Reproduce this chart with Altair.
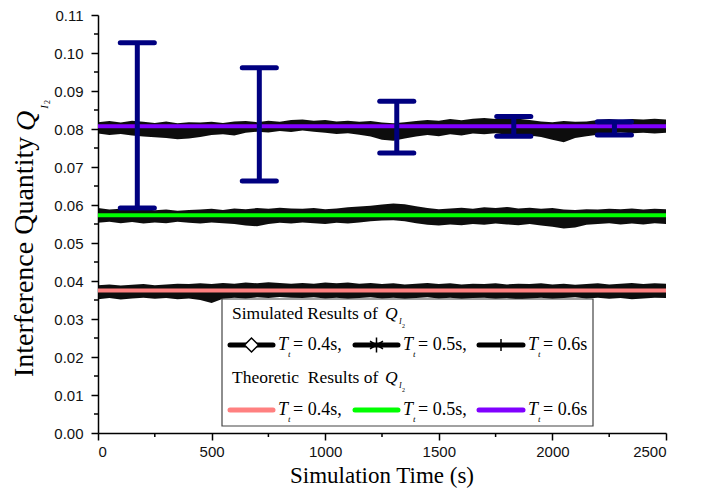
import altair as alt
import pandas as pd

# ---------------- data ----------------
x_samples = list(range(0, 2501, 50))

sim_06_upper = [0.0818, 0.0821, 0.0817, 0.0822,
                0.0819, 0.0816, 0.0820, 0.0815, 0.0818,
                0.0817, 0.0819, 0.0816, 0.0820,
                0.0821, 0.0818, 0.0822, 0.0819, 0.0824,
                0.0825, 0.0822, 0.0824,
                0.0820, 0.0822, 0.0819, 0.0821, 0.0817,
                0.0815, 0.0818, 0.0821,
                0.0824, 0.0822, 0.0826, 0.0823, 0.0827,
                0.0829, 0.0826, 0.0830, 0.0827, 0.0824,
                0.0820, 0.0818, 0.0821, 0.0819, 0.0820,
                0.0824, 0.0826, 0.0823, 0.0826, 0.0825, 0.0827, 0.0825]
sim_06_lower = [0.0788, 0.0784, 0.0787, 0.0783,
                0.0780, 0.0778, 0.0776, 0.0773, 0.0775,
                0.0779, 0.0784, 0.0786, 0.0783,
                0.0790, 0.0793, 0.0791, 0.0795, 0.0792,
                0.0796, 0.0793, 0.0790,
                0.0787, 0.0789, 0.0785, 0.0780, 0.0772,
                0.0769, 0.0775, 0.0780,
                0.0784, 0.0781, 0.0786, 0.0783, 0.0788,
                0.0786, 0.0789, 0.0785, 0.0787, 0.0783,
                0.0779, 0.0772, 0.0765, 0.0776, 0.0781,
                0.0785, 0.0789, 0.0791, 0.0789, 0.0790, 0.0788, 0.0790]

sim_05_upper = [0.0592, 0.0588, 0.0590, 0.0587,
                0.0589, 0.0586, 0.0588, 0.0585, 0.0587,
                0.0588, 0.0590, 0.0587, 0.0591,
                0.0589, 0.0592, 0.0590, 0.0593, 0.0591,
                0.0590, 0.0592, 0.0589,
                0.0591, 0.0594, 0.0596, 0.0598, 0.0601,
                0.0604, 0.0602, 0.0597,
                0.0592, 0.0589, 0.0591, 0.0593, 0.0590,
                0.0594, 0.0592, 0.0595, 0.0591, 0.0593,
                0.0590, 0.0592, 0.0588, 0.0587, 0.0589,
                0.0588, 0.0590, 0.0589, 0.0591, 0.0588, 0.0590, 0.0589]
sim_05_lower = [0.0553, 0.0556, 0.0552, 0.0555,
                0.0551, 0.0554, 0.0552, 0.0556, 0.0553,
                0.0551, 0.0554, 0.0552, 0.0550,
                0.0546, 0.0544, 0.0550, 0.0553, 0.0551,
                0.0554, 0.0552, 0.0550,
                0.0553, 0.0551, 0.0554, 0.0557, 0.0559,
                0.0560, 0.0557, 0.0552,
                0.0548, 0.0546, 0.0549, 0.0547, 0.0550,
                0.0548, 0.0551, 0.0549, 0.0547, 0.0550,
                0.0546, 0.0543, 0.0538, 0.0541, 0.0548,
                0.0550, 0.0552, 0.0549, 0.0551, 0.0549, 0.0552, 0.0550]

sim_04_upper = [0.0389, 0.0391, 0.0388, 0.0390,
                0.0392, 0.0389, 0.0391, 0.0393, 0.0392,
                0.0394, 0.0392, 0.0395, 0.0393,
                0.0396, 0.0394, 0.0397, 0.0395, 0.0393,
                0.0395, 0.0393, 0.0396,
                0.0394, 0.0396, 0.0393, 0.0395, 0.0392,
                0.0394, 0.0391, 0.0393,
                0.0395, 0.0392, 0.0394, 0.0391, 0.0393,
                0.0392, 0.0394, 0.0391, 0.0393, 0.0392,
                0.0394, 0.0391, 0.0393, 0.0390, 0.0392,
                0.0394, 0.0391, 0.0393, 0.0395, 0.0392, 0.0394, 0.0393]
sim_04_lower = [0.0352, 0.0355, 0.0351, 0.0354,
                0.0356, 0.0353, 0.0355, 0.0352, 0.0354,
                0.0350, 0.0342, 0.0353, 0.0356,
                0.0354, 0.0357, 0.0355, 0.0358, 0.0356,
                0.0355, 0.0357, 0.0354,
                0.0356, 0.0353, 0.0355, 0.0357, 0.0354,
                0.0356, 0.0353, 0.0355,
                0.0357, 0.0354, 0.0356, 0.0353, 0.0355,
                0.0356, 0.0353, 0.0355, 0.0352, 0.0354,
                0.0356, 0.0353, 0.0355, 0.0357, 0.0354,
                0.0356, 0.0353, 0.0355, 0.0352, 0.0354, 0.0356, 0.0355]

theory_x = [0, 2500]
theory_series = ["0.4", "0.5", "0.6"]
theory_levels = [0.0375, 0.0573, 0.0807]
theory_colors = ["#FF8080", "#00FF00", "#8000FF"]

err_x = [173, 710, 1315, 1830, 2273]
err_top = [0.1027, 0.0961, 0.0873, 0.0833, 0.0819]
err_bottom = [0.0592, 0.0663, 0.0737, 0.0781, 0.0784]

x_ticks = [0, 500, 1000, 1500, 2000, 2500]
x_minor = [250, 750, 1250, 1750, 2250]
y_ticks = [0.00, 0.01, 0.02, 0.03, 0.04, 0.05, 0.06, 0.07, 0.08, 0.09, 0.10, 0.11]
y_minor = [0.005, 0.015, 0.025, 0.035, 0.045, 0.055, 0.065, 0.075, 0.085, 0.095, 0.105]

# ---------------- tables ----------------
band_rows = []
for name, up, lo in [("0.4", sim_04_upper, sim_04_lower),
                     ("0.5", sim_05_upper, sim_05_lower),
                     ("0.6", sim_06_upper, sim_06_lower)]:
    for xv, u, l in zip(x_samples, up, lo):
        band_rows.append({"x": xv, "lo": l, "hi": u, "series": name})
band_df = pd.DataFrame(band_rows)

theory_df = pd.DataFrame([{"x": xv, "y": lv, "series": s}
                          for s, lv in zip(theory_series, theory_levels)
                          for xv in theory_x])

err_df = pd.DataFrame({"x": err_x, "top": err_top, "bottom": err_bottom})
xminor_df = pd.DataFrame({"x": x_minor})
yminor_df = pd.DataFrame({"y": y_minor})
one = pd.DataFrame({"a": [0]})

W, H = 568, 418

xscale = alt.Scale(domain=[0, 2500], nice=False, zero=False)
yscale = alt.Scale(domain=[0, 0.11], nice=False, zero=False)
xaxis = alt.Axis(values=x_ticks, format="d", title=None, tickSize=7, tickWidth=1.5,
                 domainWidth=1.5, domainColor="black", tickColor="black",
                 labelFont="Liberation Sans", labelFontSize=15, labelColor="#111",
                 labelPadding=4, grid=False)
yaxis = alt.Axis(values=y_ticks, format=".2f", title=None, tickSize=7, tickWidth=1.5,
                 domainWidth=1.5, domainColor="black", tickColor="black",
                 labelFont="Liberation Sans", labelFontSize=15, labelColor="#111",
                 labelPadding=8, grid=False)


def X(field):
    return alt.X(field, type="quantitative", scale=xscale, axis=xaxis)


def Y(field):
    return alt.Y(field, type="quantitative", scale=yscale, axis=yaxis)


bands = alt.Chart(band_df).mark_area(color="black", opacity=0.95).encode(
    x=X("x"), y=Y("lo"), y2="hi", detail="series:N")

theory = alt.Chart(theory_df).mark_line(strokeWidth=4).encode(
    x=X("x"), y=Y("y"),
    color=alt.Color("series:N", scale=alt.Scale(domain=theory_series, range=theory_colors),
                    legend=None))

err_v = alt.Chart(err_df).mark_rule(color="#000080", strokeWidth=5).encode(
    x=X("x"), y=Y("bottom"), y2="top")
err_caps_top = alt.Chart(err_df).transform_calculate(
    xl="datum.x - 75", xr="datum.x + 75").mark_rule(
    color="#000080", strokeWidth=5, strokeCap="round").encode(
    x=X("xl"), x2="xr", y=Y("top"))
err_caps_bot = alt.Chart(err_df).transform_calculate(
    xl="datum.x - 75", xr="datum.x + 75").mark_rule(
    color="#000080", strokeWidth=5, strokeCap="round").encode(
    x=X("xl"), x2="xr", y=Y("bottom"))

xminor_ticks = alt.Chart(xminor_df).mark_rule(color="black", strokeWidth=1.5).encode(
    x=X("x"), y=alt.value(H), y2=alt.value(H + 4))
yminor_ticks = alt.Chart(yminor_df).mark_rule(color="black", strokeWidth=1.5).encode(
    y=Y("y"), x=alt.value(0), x2=alt.value(-4))


def txt(s, px, py, size, italic=False, angle=0, align="left", font="Liberation Serif"):
    return alt.Chart(one).mark_text(
        text=s, fontSize=size, font=font, fontStyle="italic" if italic else "normal",
        angle=angle, align=align, baseline="middle", color="black").encode(
        x=alt.value(px), y=alt.value(py))


def seg(x1, x2, yy, color):
    return alt.Chart(one).mark_rule(color=color, strokeWidth=5, strokeCap="round").encode(
        x=alt.value(x1), x2=alt.value(x2), y=alt.value(yy))


legend_layers = [
    alt.Chart(one).mark_rect(fill="white", stroke="#444", strokeWidth=1.2).encode(
        x=alt.value(124), x2=alt.value(495), y=alt.value(284), y2=alt.value(411)),
]

# rows 1 and 3: headings
for label, yy in [("Simulated Results of", 299), ("Theoretic\u00a0 Results of", 363)]:
    legend_layers += [
        txt(label, 134, yy, 17.5),
        txt("Q", 287, yy, 17.5, italic=True),
        txt("I", 301, yy + 8, 8, italic=True),
        txt("2", 304, yy + 12, 6),
    ]

sym_x = [(132, 175), (257, 300), (381, 425)]
text_x = [180, 305, 430]
labels = ["= 0.4s,", "= 0.5s,", "= 0.6s"]
for row_y, colors in [(330, ["black", "black", "black"]), (395, theory_colors)]:
    for (a, b), tx, lab, c in zip(sym_x, text_x, labels, colors):
        legend_layers += [
            seg(a, b, row_y, c),
            txt("T", tx, row_y, 18, italic=True),
            txt("t", tx + 10, row_y + 9, 9, italic=True),
            txt(lab, tx + 15, row_y, 18),
        ]

markers = [
    alt.Chart(one).mark_point(shape="diamond", size=196, filled=True, fill="white",
                              stroke="black", strokeWidth=1.5, opacity=1).encode(
        x=alt.value(153.5), y=alt.value(330)),
    alt.Chart(one).mark_point(shape="M0,-1L0,1M-0.87,-0.5L0.87,0.5M-0.87,0.5L0.87,-0.5",
                              size=225, filled=False, stroke="black", strokeWidth=1.5,
                              opacity=1).encode(x=alt.value(278.5), y=alt.value(330)),
    alt.Chart(one).mark_point(shape="M0,-1L0,1", size=144, filled=False, stroke="black",
                              strokeWidth=1.5, opacity=1).encode(
        x=alt.value(403), y=alt.value(330)),
]

titles = [
    txt("Simulation Time (s)", W / 2, 461, 23, align="center"),
    txt("Interference Quantity", -73, 362, 28, angle=270),
    txt("Q", -71, 116, 28, italic=True, angle=270),
    txt("I", -53, 92, 11, italic=True, angle=270, align="center"),
    txt("2", -50, 87, 8, angle=270, align="center"),
]

chart = alt.layer(
    bands, theory, err_v, err_caps_top, err_caps_bot, xminor_ticks, yminor_ticks,
    *legend_layers, *markers, *titles
).properties(
    width=W, height=H, autosize="none",
    padding={"left": 90, "top": 7, "right": 30, "bottom": 60},
    background="white",
).configure_view(stroke=None)

chart.save("out.html", embed_options={"renderer": "svg", "actions": False})
